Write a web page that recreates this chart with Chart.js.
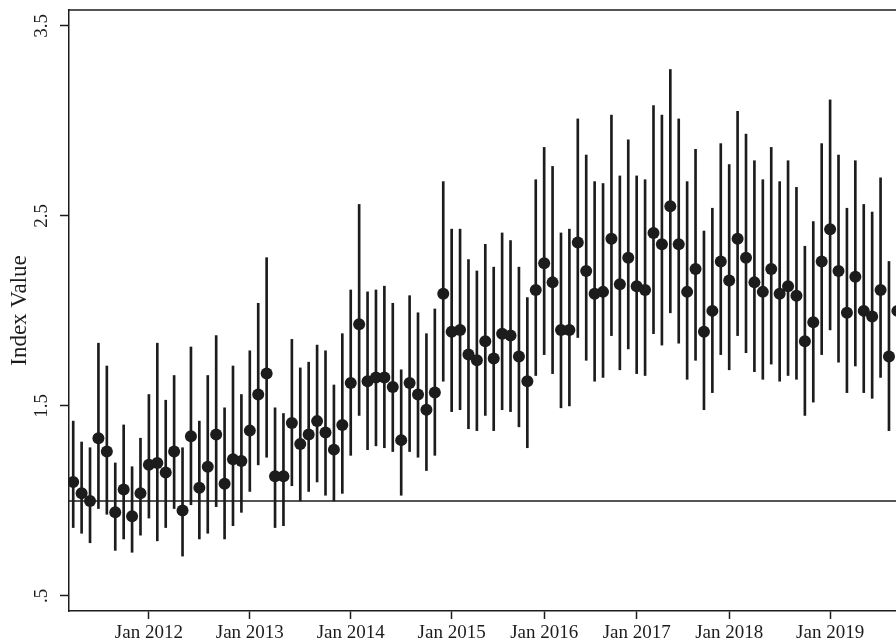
<!DOCTYPE html>
<html>
<head>
<meta charset="utf-8">
<title>Index Value</title>
<script src="https://cdn.jsdelivr.net/npm/chart.js@4/dist/chart.umd.min.js"></script>
<style>
  html, body { margin: 0; padding: 0; background: #fff; overflow: hidden; }
  #wrap { width: 896px; height: 643px; overflow: hidden; }
</style>
</head>
<body>
<div id="wrap"><canvas id="myChart" width="916" height="643"></canvas></div>
<script>
/* Data - monthly index with interval */

const indexValues = [
  1.10, 1.04, 1.00, 1.33, 1.26, 0.94, 1.06, 0.92, 1.04, 1.19,
  1.20, 1.15, 1.26, 0.95, 1.34, 1.07, 1.18, 1.35, 1.09, 1.22,
  1.21, 1.37, 1.56, 1.67, 1.13, 1.13, 1.41, 1.30, 1.35, 1.42,
  1.36, 1.27, 1.40, 1.62, 1.93, 1.63, 1.65, 1.65, 1.60, 1.32,
  1.62, 1.56, 1.48, 1.57, 2.09, 1.89, 1.90, 1.77, 1.74, 1.84,
  1.75, 1.88, 1.87, 1.76, 1.63, 2.11, 2.25, 2.15, 1.90, 1.90,
  2.36, 2.21, 2.09, 2.10, 2.38, 2.14, 2.28, 2.13, 2.11, 2.41,
  2.35, 2.55, 2.35, 2.10, 2.22, 1.89, 2.00, 2.26, 2.16, 2.38,
  2.28, 2.15, 2.10, 2.22, 2.09, 2.13, 2.08, 1.84, 1.94, 2.26,
  2.43, 2.21, 1.99, 2.18, 2.00, 1.97, 2.11, 1.76, 2.00
];

const lowerValues = [
  0.86, 0.83, 0.78, 0.96, 0.93, 0.74, 0.80, 0.73, 0.82, 0.91,
  0.79, 0.86, 0.96, 0.71, 0.98, 0.80, 0.83, 0.97, 0.80, 0.87,
  0.94, 1.05, 1.19, 1.23, 0.86, 0.87, 1.08, 1.00, 1.05, 1.10,
  1.03, 1.00, 1.04, 1.24, 1.45, 1.27, 1.29, 1.28, 1.26, 1.03,
  1.26, 1.23, 1.16, 1.24, 1.63, 1.47, 1.48, 1.38, 1.37, 1.45,
  1.37, 1.48, 1.47, 1.39, 1.28, 1.66, 1.77, 1.67, 1.49, 1.50,
  1.86, 1.74, 1.63, 1.65, 1.87, 1.69, 1.80, 1.67, 1.66, 1.88,
  1.82, 1.99, 1.83, 1.64, 1.74, 1.48, 1.57, 1.77, 1.69, 1.87,
  1.78, 1.68, 1.64, 1.72, 1.63, 1.66, 1.64, 1.45, 1.52, 1.77,
  1.90, 1.73, 1.57, 1.71, 1.57, 1.54, 1.65, 1.37, 1.57
];

const upperValues = [
  1.42, 1.31, 1.28, 1.83, 1.71, 1.20, 1.40, 1.18, 1.33, 1.56,
  1.83, 1.53, 1.66, 1.28, 1.81, 1.42, 1.66, 1.87, 1.49, 1.71,
  1.56, 1.79, 2.04, 2.28, 1.49, 1.46, 1.85, 1.70, 1.73, 1.82,
  1.79, 1.61, 1.88, 2.11, 2.56, 2.10, 2.11, 2.13, 2.04, 1.69,
  2.08, 1.99, 1.88, 2.01, 2.68, 2.43, 2.43, 2.27, 2.21, 2.35,
  2.23, 2.41, 2.37, 2.23, 2.07, 2.69, 2.86, 2.76, 2.41, 2.43,
  3.01, 2.82, 2.68, 2.67, 3.03, 2.71, 2.90, 2.71, 2.69, 3.08,
  3.03, 3.27, 3.01, 2.68, 2.85, 2.42, 2.54, 2.88, 2.77, 3.05,
  2.93, 2.79, 2.69, 2.86, 2.68, 2.79, 2.65, 2.34, 2.47, 2.88,
  3.11, 2.82, 2.54, 2.79, 2.56, 2.52, 2.70, 2.26, 2.55
];

// x tick positions (point index) and their labels
const tickPositions = [9, 21, 33, 45, 56, 67, 78, 90];
const tickLabels = ['Jan 2012', 'Jan 2013', 'Jan 2014', 'Jan 2015', 'Jan 2016', 'Jan 2017', 'Jan 2018', 'Jan 2019'];

const yTicks = [0.5, 1.5, 2.5, 3.5];
const yTickLabels = ['.5', '1.5', '2.5', '3.5'];
const baseline = 1;

/* Build datasets */

const ink = '#1c1c1c';
const serif = 'Liberation Serif';

let points = [];
let intervals = [];
for (let i = 0; i < indexValues.length; i++) {
  points.push({x: i, y: indexValues[i]});
  intervals.push({x: i, y: [lowerValues[i], upperValues[i]]});
}

const xMin = -0.5;
const xMax = 99.5;

const frameLine = {
  id: 'frameLine',
  afterDraw: function(chart) {
    const ctx = chart.ctx;
    const area = chart.chartArea;
    ctx.save();
    ctx.strokeStyle = ink;
    ctx.lineWidth = 1.5;
    ctx.beginPath();
    ctx.moveTo(area.left, area.top);
    ctx.lineTo(area.right, area.top);
    ctx.lineTo(area.right, area.bottom);
    ctx.stroke();
    ctx.restore();
  }
};

let ctx = document.getElementById('myChart').getContext('2d');
// eslint-disable-next-line
let chart = new Chart(ctx, {
  type: 'bar',
  data: {
    datasets: [{
      type: 'scatter',
      label: 'Index',
      data: points,
      pointRadius: 6,
      pointHoverRadius: 6,
      pointBackgroundColor: ink,
      pointBorderWidth: 0,
      order: 0
    },
    {
      type: 'bar',
      label: 'Interval',
      data: intervals,
      backgroundColor: ink,
      borderWidth: 0,
      barThickness: 2,
      order: 1
    },
    {
      type: 'line',
      label: 'Baseline',
      data: [{x: xMin, y: baseline}, {x: xMax, y: baseline}],
      borderColor: ink,
      borderWidth: 1.5,
      pointRadius: 0,
      order: 2
    }]
  },
  options: {
    responsive: false,
    animation: false,
    devicePixelRatio: 1,
    layout: {
      padding: { left: 0, right: 3, top: 10, bottom: 0 }
    },
    plugins: {
      legend: { display: false },
      tooltip: { enabled: false }
    },
    scales: {
      x: {
        type: 'linear',
        position: 'bottom',
        min: xMin,
        max: xMax,
        offset: false,
        grid: {
          display: true,
          offset: false,
          drawOnChartArea: false,
          drawTicks: true,
          tickLength: 8,
          tickColor: ink,
          tickWidth: 1.5
        },
        border: { display: true, color: ink, width: 1.5 },
        afterBuildTicks: function(scale) {
          scale.ticks = tickPositions.map(function(v) { return {value: v}; });
        },
        afterFit: function(scale) {
          scale.height = 32;
          scale.paddingLeft = 0;
          scale.paddingRight = 0;
        },
        ticks: {
          autoSkip: false,
          maxRotation: 0,
          minRotation: 0,
          padding: 3,
          color: ink,
          font: { family: serif, size: 19 },
          callback: function(value) {
            return tickLabels[tickPositions.indexOf(value)];
          }
        }
      },
      y: {
        type: 'linear',
        min: 0.421,
        max: 3.583,
        grid: {
          display: true,
          drawOnChartArea: false,
          drawTicks: true,
          tickLength: 9,
          tickColor: ink,
          tickWidth: 1.5
        },
        border: { display: true, color: ink, width: 1.5 },
        afterBuildTicks: function(scale) {
          scale.ticks = yTicks.map(function(v) { return {value: v}; });
        },
        afterFit: function(scale) {
          scale.width = 69;
          scale.paddingTop = 0;
          scale.paddingBottom = 0;
        },
        title: {
          display: true,
          text: 'Index Value',
          color: ink,
          font: { family: serif, size: 23 },
          padding: { top: 6, bottom: 0 }
        },
        ticks: {
          minRotation: 90,
          maxRotation: 90,
          crossAlign: 'center',
          padding: 6,
          color: ink,
          font: { family: serif, size: 19 },
          callback: function(value) {
            return yTickLabels[yTicks.indexOf(value)];
          }
        }
      }
    }
  },
  plugins: [frameLine]
});
</script>
</body>
</html>
